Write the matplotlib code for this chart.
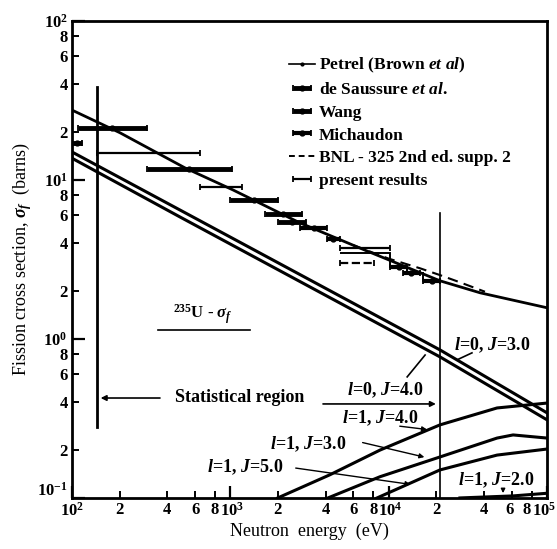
import numpy as np
import matplotlib
matplotlib.use('Agg')
import matplotlib.pyplot as plt
from matplotlib.ticker import FixedLocator, FixedFormatter
from matplotlib.transforms import ScaledTranslation
from matplotlib.lines import Line2D

plt.rcParams['font.family'] = ['Liberation Serif', 'DejaVu Serif']
plt.rcParams['font.weight'] = 'bold'
plt.rcParams['mathtext.fontset'] = 'custom'
plt.rcParams['mathtext.rm'] = 'Liberation Serif:bold'
plt.rcParams['mathtext.it'] = 'Liberation Serif:bold:italic'
plt.rcParams['mathtext.bf'] = 'Liberation Serif:bold'

# ---- data (energy in eV, cross section in barns) ----
main_E = [100, 201, 518, 1040, 2750, 7310, 21100, 37800, 100000]
main_sig = [27.5, 19.8, 11.9, 8.65, 5.37, 3.57, 2.32, 1.95, 1.57]

bnl_E = [6000, 10000, 15800, 21100, 28200, 40600]
bnl_sig = [3.88, 3.2, 2.78, 2.52, 2.27, 1.98]

l0J3_E = [100, 481, 21100, 100000]
l0J3_sig = [15.0, 6.47, 0.853, 0.343]
l0J4_E = [100, 481, 21100, 100000]
l0J4_sig = [13.7, 5.85, 0.771, 0.310]

l1J4_E = [1995, 4270, 8830, 21100, 48400, 100000]
l1J4_sig = [0.100, 0.140, 0.200, 0.288, 0.368, 0.395]
l1J3_E = [4140, 8830, 21100, 48400, 61100, 100000]
l1J3_sig = [0.100, 0.136, 0.181, 0.238, 0.249, 0.238]
l1J5_E = [8450, 21100, 48400, 100000]
l1J5_sig = [0.100, 0.150, 0.186, 0.203]
l1J2_E = [28200, 61100, 100000]
l1J2_sig = [0.100, 0.103, 0.107]

sau_lo = [109, 298, 1000]
sau_hi = [298, 1020, 2000]
sau_y = [21.2, 11.7, 7.5]
wang_lo = [100, 1660, 1990]
wang_hi = [116, 2820, 3020]
wang_y = [17.0, 6.1, 5.45]
mich_lo = [2750, 4070, 10200, 12300, 16600]
mich_hi = [4100, 4900, 13100, 15800, 21000]
mich_y = [5.0, 4.26, 2.84, 2.6, 2.32]
pres_lo = [144, 645, 4900]
pres_hi = [645, 1186, 10200]
pres_y = [14.8, 9.0, 3.73]
petrel_edges = [4900, 10200, 13100, 16600, 21000]
petrel_y = [3.46, 2.84, 2.6, 2.32]
bnlpt_lo = [4900]
bnlpt_hi = [8130]
bnlpt_y = [3.0]

x_major = [100, 1000, 10000, 100000]
x_major_labels = [r'$10^2$', r'$10^3$', r'$10^4$', r'$10^5$']
x_minor = [200, 400, 600, 800, 2000, 4000, 6000, 8000, 20000, 40000, 60000, 80000]
x_minor_labels = ['2', '4', '6', '8'] * 3
y_major = [0.1, 1, 10, 100]
y_major_labels = [r'$10^{-1}$', r'$10^0$', r'$10^1$', r'$10^2$']
y_minor = [0.2, 0.4, 0.6, 0.8, 2, 4, 6, 8, 20, 40, 60, 80]
y_minor_labels = ['2', '4', '6', '8'] * 3

fig = plt.figure(figsize=(5.57, 5.49), dpi=100)
ax = fig.add_axes([0.129, 0.093, 0.853, 0.869])
ax.set_xscale('log')
ax.set_yscale('log')
ax.set_xlim(100, 100000)
ax.set_ylim(0.1, 100)

K = 'k'
ax.plot(main_E, main_sig, color=K, lw=2.0)
ax.plot(bnl_E, bnl_sig, color=K, lw=1.5, ls=(0, (5, 3)))
ax.plot(l0J3_E, l0J3_sig, color=K, lw=2.2)
ax.plot(l0J4_E, l0J4_sig, color=K, lw=2.2)
for E, s in [(l1J4_E, l1J4_sig), (l1J3_E, l1J3_sig), (l1J5_E, l1J5_sig), (l1J2_E, l1J2_sig)]:
    ax.plot(E, s, color=K, lw=2.2)


def hbars(lo, hi, y, lw, ms, cap=2.5, ls='-'):
    lo = np.asarray(lo, float)
    hi = np.asarray(hi, float)
    c = np.sqrt(lo * hi)
    eb = ax.errorbar(c, y, xerr=[c - lo, hi - c], fmt='o', color=K, ms=ms,
                     elinewidth=lw, capsize=cap, capthick=1.3)
    if ls != '-':
        eb[2][0].set_linestyle(ls)
    return eb


h_sau = hbars(sau_lo, sau_hi, sau_y, 3.5, 3.5)
h_wang = hbars(wang_lo, wang_hi, wang_y, 3.5, 3.5)
h_mich = hbars(mich_lo, mich_hi, mich_y, 3.0, 3.5)
h_pres = hbars(pres_lo, pres_hi, pres_y, 1.6, 0)
ax.stairs(petrel_y, petrel_edges, baseline=None, color=K, lw=1.4)
h_bnlpt = hbars(bnlpt_lo, bnlpt_hi, bnlpt_y, 1.6, 0, ls='--')

# vertical region boundaries
ax.plot([144, 144], [0.28, 38.5], color=K, lw=2.0)
ax.plot([21000, 21000], [0.1, 6.2], color=K, lw=1.2)

# statistical region
ax.text(1150, 0.43, 'Statistical region', fontsize=13, ha='center', va='center')
ax.annotate('', xy=(146, 0.425), xytext=(375, 0.425),
            arrowprops=dict(arrowstyle='-|>', color=K, lw=1.2, mutation_scale=8))
ax.annotate('', xy=(20700, 0.39), xytext=(3700, 0.39),
            arrowprops=dict(arrowstyle='-|>', color=K, lw=1.2, mutation_scale=8))

ax.text(673, 1.42, r'$^{235}$U - $\sigma_f$', fontsize=12, ha='center', va='center')
ax.plot([350, 1330], [1.14, 1.14], color=K, lw=1.2)

lab_kw = dict(fontsize=13, ha='center', va='center')
ax.text(45000, 0.916, r'$l$=0, $J$=3.0', **lab_kw)
ax.plot([33600, 27000], [0.817, 0.738], color=K, lw=1.2)
ax.text(9480, 0.477, r'$l$=0, $J$=4.0', **lab_kw)
ax.plot([13100, 17000], [0.577, 0.792], color=K, lw=1.2)
ax.text(8830, 0.318, r'$l$=1, $J$=4.0', **lab_kw)
ax.annotate('', xy=(18200, 0.268), xytext=(11300, 0.284),
            arrowprops=dict(arrowstyle='-|>', color=K, lw=1.0, mutation_scale=7))
ax.text(3100, 0.219, r'$l$=1, $J$=3.0', **lab_kw)
ax.annotate('', xy=(17500, 0.179), xytext=(6590, 0.225),
            arrowprops=dict(arrowstyle='-|>', color=K, lw=1.0, mutation_scale=7))
ax.text(1240, 0.155, r'$l$=1, $J$=5.0', **lab_kw)
ax.annotate('', xy=(14300, 0.121), xytext=(2490, 0.155),
            arrowprops=dict(arrowstyle='-|>', color=K, lw=1.0, mutation_scale=7))
ax.text(47600, 0.130, r'$l$=1, $J$=2.0', **lab_kw)
ax.annotate('', xy=(52800, 0.103), xytext=(52800, 0.119),
            arrowprops=dict(arrowstyle='-|>', color=K, lw=1.0, mutation_scale=6))

# legend
h_petrel = Line2D([], [], color=K, lw=1.2, marker='o', ms=2, markevery=[1])
h_bnl = Line2D([], [], color=K, lw=1.4, ls=(0, (3, 2)))
leg = ax.legend([h_petrel, h_sau, h_wang, h_mich, h_bnl, h_pres],
                [r'Petrel (Brown $et\ al$)', r'de Saussure $et\ al.$', 'Wang', 'Michaudon',
                 'BNL - 325 2nd ed. supp. 2', 'present results'],
                loc='upper right', bbox_to_anchor=(0.945, 0.948), frameon=False,
                fontsize=12.5, handlelength=1.5, handletextpad=0.2, labelspacing=0.38,
                borderaxespad=0.2)

ax.xaxis.set_major_locator(FixedLocator(x_major))
ax.xaxis.set_major_formatter(FixedFormatter(x_major_labels))
ax.xaxis.set_minor_locator(FixedLocator(x_minor))
ax.xaxis.set_minor_formatter(FixedFormatter(x_minor_labels))
ax.yaxis.set_major_locator(FixedLocator(y_major))
ax.yaxis.set_major_formatter(FixedFormatter(y_major_labels))
ax.yaxis.set_minor_locator(FixedLocator(y_minor))
ax.yaxis.set_minor_formatter(FixedFormatter(y_minor_labels))
ax.tick_params(which='major', direction='in', length=9, width=1.6, labelsize=12, pad=3)
ax.tick_params(which='minor', direction='in', length=5, width=1.4, labelsize=12, pad=3)
for s in ax.spines.values():
    s.set_linewidth(2.0)

ax.set_xlabel('Neutron  energy  (eV)', fontsize=13, labelpad=2)
ax.set_ylabel(r'Fission cross section, $\sigma_f$  (barns)', fontsize=13, labelpad=2)


def shift(t, dx, dy):
    t.set_transform(t.get_transform() + ScaledTranslation(dx / 100, dy / 100, fig.dpi_scale_trans))


fig.canvas.draw()
xl = ax.get_xticklabels()
xm = ax.get_xticklabels(minor=True)
yl = ax.get_yticklabels()
shift(xl[-1], -3, 0)
shift(xm[-1], -5, 0)
shift(xm[-2], -2, 0)
shift(xl[1], 2, 0)
shift(xl[2], 2, 0)
shift(yl[0], 0, 9)

fig.savefig('out.png', dpi=100)
